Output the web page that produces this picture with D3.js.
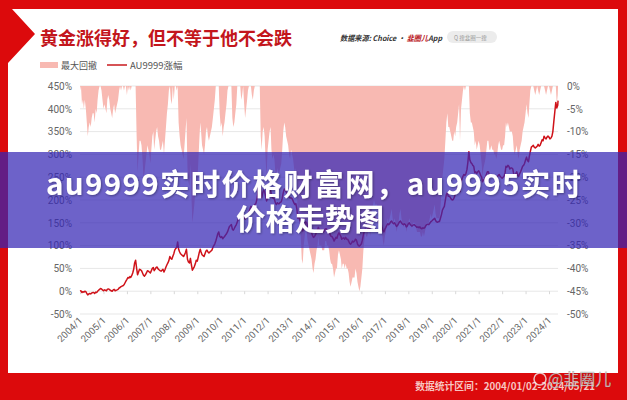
<!DOCTYPE html>
<html><head><meta charset="utf-8">
<script src="https://cdn.jsdelivr.net/npm/d3@7"></script>
<style>
html,body{margin:0;padding:0;background:#fff;}
svg{display:block;}
</style></head><body>
<svg id="c" width="627" height="400"></svg>
<script>
// ---------- data ----------
const xTickLabels = ["2004/1","2005/1","2006/1","2007/1","2008/1","2009/1","2010/1","2011/1","2012/1","2013/1","2014/1","2015/1","2016/1","2017/1","2018/1","2019/1","2020/1","2021/1","2022/1","2023/1","2024/1"];
const leftTicks = [-50,0,50,100,150,200,250,300,350,400,450];
const rightTicks = [-50,-45,-40,-35,-30,-25,-20,-15,-10,-5,0];
const legendLabels = ["最大回撤","AU9999涨幅"];

// AU9999 cumulative change (%), two readings per month, 2004/01 .. 2024/05/21
const au9999Pct = [
 0,1,-3,-1,-2,0,-1,-5,-8,-6,-5,-6,-4,-3,-3,-5,-2,-3,0,2,4,6,5,3,
 1,3,2,1,4,5,4,2,1,0,3,4,1,2,3,4,7,8,10,11,12,14,18,22,
 26,30,29,32,30,34,40,48,62,68,50,36,42,48,47,45,40,35,33,36,40,45,44,42,
 40,45,50,52,45,48,52,53,49,47,45,44,46,48,42,47,53,58,62,67,76,72,70,76,
 82,90,94,96,108,92,86,82,80,78,76,80,85,92,70,64,62,72,58,46,50,54,60,68,
 66,75,85,92,86,80,78,76,82,88,90,86,84,86,88,90,96,100,104,110,118,126,130,120,
 118,120,115,118,120,123,126,130,136,142,144,146,136,134,138,142,146,152,158,163,168,164,166,170,
 162,158,162,166,170,174,180,186,184,182,186,190,192,200,215,240,253,225,205,215,222,218,208,198,
 205,212,220,222,210,205,204,202,194,190,194,192,192,195,196,204,216,224,222,218,214,212,207,204,
 205,203,198,193,190,192,180,160,165,156,150,136,132,140,146,152,150,142,140,138,134,128,122,118,
 120,124,130,134,140,134,135,134,132,130,132,136,137,134,133,131,124,120,120,116,110,114,118,116,
 124,128,124,120,114,116,117,114,118,114,114,110,105,103,106,110,108,110,114,112,104,100,99,101,
 104,112,124,132,136,132,134,138,140,136,142,154,158,162,160,158,158,154,150,146,150,140,134,130,
 136,140,145,148,146,148,152,154,150,148,150,146,142,144,148,152,154,150,147,146,148,146,141,143,
 148,150,146,144,143,145,146,144,142,140,141,139,141,138,137,139,138,140,144,146,147,146,149,152,
 154,156,158,160,155,152,151,153,153,160,168,178,182,186,200,212,216,208,208,206,202,200,201,205,
 212,218,222,230,232,218,240,246,252,256,254,258,266,282,306,288,282,280,276,274,260,262,258,262,
 264,260,254,250,240,244,246,250,256,262,262,254,254,256,254,252,250,248,246,250,254,256,252,250,
 248,250,252,260,274,272,276,274,268,270,270,268,256,254,258,262,254,252,258,262,268,274,276,280,
 288,294,286,284,296,306,316,318,320,316,314,316,318,322,318,320,326,332,330,340,336,334,338,340,
 338,334,336,340,350,372,394,414,402,408,418
];

// maximum drawdown (%), same dates
const maxDrawdown = [
 -1,0,-4,-3,-5,-3,-5,-8,-11,-9,-8,-9,-7,-6,-6,-8,-5,-6,-3,-1,0,0,-1,-3,
 -5,-4,-5,-6,-3,-2,-3,-5,-6,-7,-5,-4,-6,-5,-4,-3,-1,0,-1,0,0,-1,0,0,
 -2,0,-1,0,-1,0,0,0,0,0,-11,-19,-15,-12,-12,-13,-16,-20,-19,-17,-15,-13,-14,-15,
 -17,-14,-11,-10,-14,-12,-10,-9,-11,-12,-14,-14,-13,-12,-15,-12,-9,-6,-4,-1,0,-3,-4,0,
 -3,0,0,-1,0,-8,-11,-13,-14,-15,-16,-13,-10,-7,-18,-21,-22,-17,-24,-30,-28,-26,-23,-19,
 -21,-17,-12,-8,-10,-13,-14,-15,-13,-10,-9,-11,-12,-11,-10,-9,-7,-5,-3,0,0,0,0,-6,
 -9,-8,-11,-9,-8,-6,-4,-1,0,0,0,0,-7,-9,-8,-6,-4,0,0,0,0,-3,-2,0,
 -4,-7,-5,-3,-1,0,0,0,-2,-3,-1,0,0,0,0,0,0,-11,-14,-10,-9,-11,-16,-20,
 -14,-12,-10,-9,-14,-16,-15,-16,-19,-21,-18,-19,-19,-18,-17,-14,-10,-8,-9,-11,-12,-13,-15,-16,
 -14,-15,-16,-18,-19,-18,-22,-30,-28,-31,-33,-38,-39,-35,-33,-31,-32,-34,-35,-36,-37,-38,-40,-41,
 -39,-38,-36,-35,-33,-35,-35,-35,-36,-36,-36,-34,-34,-35,-35,-36,-38,-39,-39,-40,-42,-41,-40,-40,
 -37,-36,-37,-38,-40,-39,-39,-40,-39,-40,-40,-41,-43,-44,-43,-42,-42,-42,-40,-41,-43,-44,-45,-44,
 -42,-40,-36,-34,-32,-33,-33,-32,-31,-33,-31,-27,-26,-25,-26,-26,-26,-28,-29,-30,-29,-32,-34,-35,
 -33,-32,-30,-29,-30,-29,-28,-27,-29,-30,-29,-30,-32,-31,-30,-28,-27,-29,-30,-31,-30,-30,-32,-31,
 -30,-29,-30,-31,-31,-30,-30,-30,-31,-32,-32,-32,-32,-33,-33,-32,-33,-32,-31,-30,-30,-30,-29,-28,
 -29,-28,-27,-26,-28,-29,-29,-29,-29,-27,-23,-20,-18,-16,-12,-8,-6,-9,-9,-10,-11,-12,-12,-10,
 -11,-9,-8,-6,-4,-12,-5,-3,-1,0,-1,0,0,0,0,-6,-8,-8,-9,-10,-13,-12,-14,-13,
 -12,-13,-15,-17,-20,-18,-17,-16,-14,-12,-12,-14,-14,-13,-14,-14,-15,-15,-16,-15,-13,-12,-13,-14,
 -14,-13,-13,-11,-8,-9,-8,-9,-10,-10,-10,-11,-14,-15,-14,-13,-15,-16,-14,-13,-12,-10,-9,-8,
 -6,-4,-6,-7,-4,-1,0,0,0,-1,-2,-1,0,-1,-2,-1,0,0,0,0,-1,-2,-1,0,
 0,-1,-2,-1,0,0,0,0,-4,-2,0
];

// dates: readings on the 1st and 16th of each month, first 2004/01/02, last 2024/05/21
const dates = [];
for (let y = 2004; y <= 2024; y++) {
  for (let m = 0; m < 12; m++) {
    if (y === 2024 && m > 4) break;
    dates.push(new Date(y, m, (y === 2004 && m === 0) ? 2 : 1));
    dates.push(new Date(y, m, 16));
  }
}
dates.push(new Date(2024, 4, 21));
const rows = dates.map((d, i) => ({date: d, pct: au9999Pct[i], dd: maxDrawdown[i]}));

// ---------- drawing ----------
const CJK = "'Noto Sans CJK SC','Noto Sans',sans-serif";
const NUM = "Roboto,'Noto Sans',sans-serif";
const RED = "#dc0a0c";
const svg = d3.select("#c");

const defs = svg.append("defs");
const f = defs.append("filter").attr("id","sh").attr("x","-5%").attr("y","-20%").attr("width","110%").attr("height","140%");
f.append("feDropShadow").attr("dx",1).attr("dy",1).attr("stdDeviation",1).attr("flood-color","#000").attr("flood-opacity",0.35);

svg.append("rect").attr("width",627).attr("height",400).attr("fill",RED);
svg.append("polygon").attr("points","12,9 618,9 618,373 8,373 8,63 35,34").attr("fill","#fff");

// title
svg.append("text").attr("x",40).attr("y",45).attr("font-family",CJK).attr("font-weight",700)
  .attr("font-size",18).attr("fill","#c3161c").text("黄金涨得好，但不等于他不会跌");

// source
const src = svg.append("text").attr("x",340).attr("y",40.5).attr("font-family",CJK).attr("font-weight",700)
  .attr("font-style","italic").attr("font-size",7.6).attr("fill","#333")
  .attr("textLength",102).attr("lengthAdjust","spacingAndGlyphs");
src.append("tspan").text("数据来源: Choice · ");
src.append("tspan").attr("fill","#b8141a").text("韭圈儿");
src.append("tspan").text("App");
svg.append("rect").attr("x",447).attr("y",31).attr("width",50).attr("height",12).attr("rx",6).attr("fill","#ececec");
svg.append("text").attr("x",454).attr("y",39.5).attr("font-family",CJK).attr("font-size",5.5).attr("fill","#999").text("Q 搜韭圈一搜");

// legend
svg.append("rect").attr("x",40).attr("y",62).attr("width",18).attr("height",6).attr("fill","#f8b9b2");
svg.append("text").attr("x",61).attr("y",68.5).attr("font-family",CJK).attr("font-size",9).attr("fill","#555").text(legendLabels[0]);
svg.append("line").attr("x1",107).attr("x2",127).attr("y1",65).attr("y2",65).attr("stroke","#c81a1e").attr("stroke-width",1.5);
svg.append("text").attr("x",130).attr("y",68.5).attr("font-family",CJK).attr("font-size",9.5).attr("fill","#555").text(legendLabels[1]);

// scales
const x = d3.scaleTime().domain([new Date(2004,0,1), new Date(2024,0,1)]).range([80, 549]);
const yL = d3.scaleLinear().domain([-50, 450]).range([314, 86]);
const yR = d3.scaleLinear().domain([-50, 0]).range([314, 86]);
const x0 = 80, x1 = x(new Date(2024,4,21));

// grid
svg.append("g").selectAll("line").data(leftTicks).join("line")
  .attr("x1",x0).attr("x2",x1).attr("y1",d=>yL(d)).attr("y2",d=>yL(d))
  .attr("stroke","#e7e7e7").attr("stroke-width",1);

// drawdown area
svg.append("path").datum(rows)
  .attr("d", d3.area().x(d=>x(d.date)).y0(yR(0)).y1(d=>yR(d.dd)))
  .attr("fill","#f8b9b2");

// x axis ticks on the 0% line
const tickDates = xTickLabels.map(s => { const p = s.split("/"); return new Date(+p[0], +p[1]-1, 1); });
const xa = svg.append("g").attr("transform",`translate(0,${yL(0)})`)
  .call(d3.axisBottom(x).tickValues(tickDates).tickSize(3).tickFormat(""));
xa.select(".domain").remove();
xa.selectAll(".tick line").attr("stroke","#d8d8d8");

svg.append("g").selectAll("text").data(xTickLabels).join("text")
  .attr("transform",(d,i)=>`translate(${x(tickDates[i])+3},321) rotate(-45)`)
  .attr("text-anchor","end").attr("font-family",NUM).attr("font-size",9.5).attr("fill","#666")
  .text(d=>d);

// line
svg.append("path").datum(rows)
  .attr("d", d3.line().x(d=>x(d.date)).y(d=>yL(d.pct)))
  .attr("fill","none").attr("stroke","#cf1219").attr("stroke-width",1.5).attr("stroke-linejoin","round");

// axes labels
const la = svg.append("g").attr("transform","translate(72,0)")
  .call(d3.axisLeft(yL).tickValues(leftTicks).tickSize(0).tickPadding(0).tickFormat(d=>d+"%"));
la.select(".domain").remove();
la.selectAll("text").attr("font-family",NUM).attr("font-size",10).attr("fill","#666");

const ra = svg.append("g").attr("transform","translate(567,0)")
  .call(d3.axisRight(yR).tickValues(rightTicks).tickSize(0).tickPadding(0).tickFormat(d=>d+"%"));
ra.select(".domain").remove();
ra.selectAll("text").attr("font-family",NUM).attr("font-size",10).attr("fill","#666");

// footer
svg.append("text").attr("x",595).attr("y",390).attr("text-anchor","end").attr("font-family",CJK)
  .attr("font-weight",700).attr("font-size",9.8).attr("fill","#f7c6c2").text("数据统计区间：2004/01/02-2024/05/21");
svg.append("circle").attr("cx",540).attr("cy",379).attr("r",6).attr("fill","none").attr("stroke","rgba(240,240,240,0.8)").attr("stroke-width",1.5);
svg.append("text").attr("x",548).attr("y",385).attr("font-family",CJK).attr("font-size",16)
  .attr("fill","rgba(240,240,240,0.85)").attr("stroke","rgba(90,90,90,0.45)").attr("stroke-width",0.6).text("@韭圈儿");

// banner overlay
svg.append("rect").attr("x",0).attr("y",152).attr("width",627).attr("height",96).attr("fill","rgba(52,38,180,0.72)");
svg.append("text").attr("x",46).attr("y",195).attr("font-family",CJK)
  .attr("font-weight",700).attr("font-size",29.5).attr("fill","#fff").attr("filter","url(#sh)")
  .attr("textLength",535).attr("lengthAdjust","spacing")
  .text("au9999实时价格财富网，au9995实时");
svg.append("text").attr("x",236).attr("y",230).attr("font-family",CJK)
  .attr("font-weight",700).attr("font-size",29.5).attr("fill","#fff").attr("filter","url(#sh)")
  .attr("textLength",148).attr("lengthAdjust","spacing")
  .text("价格走势图");
</script>
</body></html>
